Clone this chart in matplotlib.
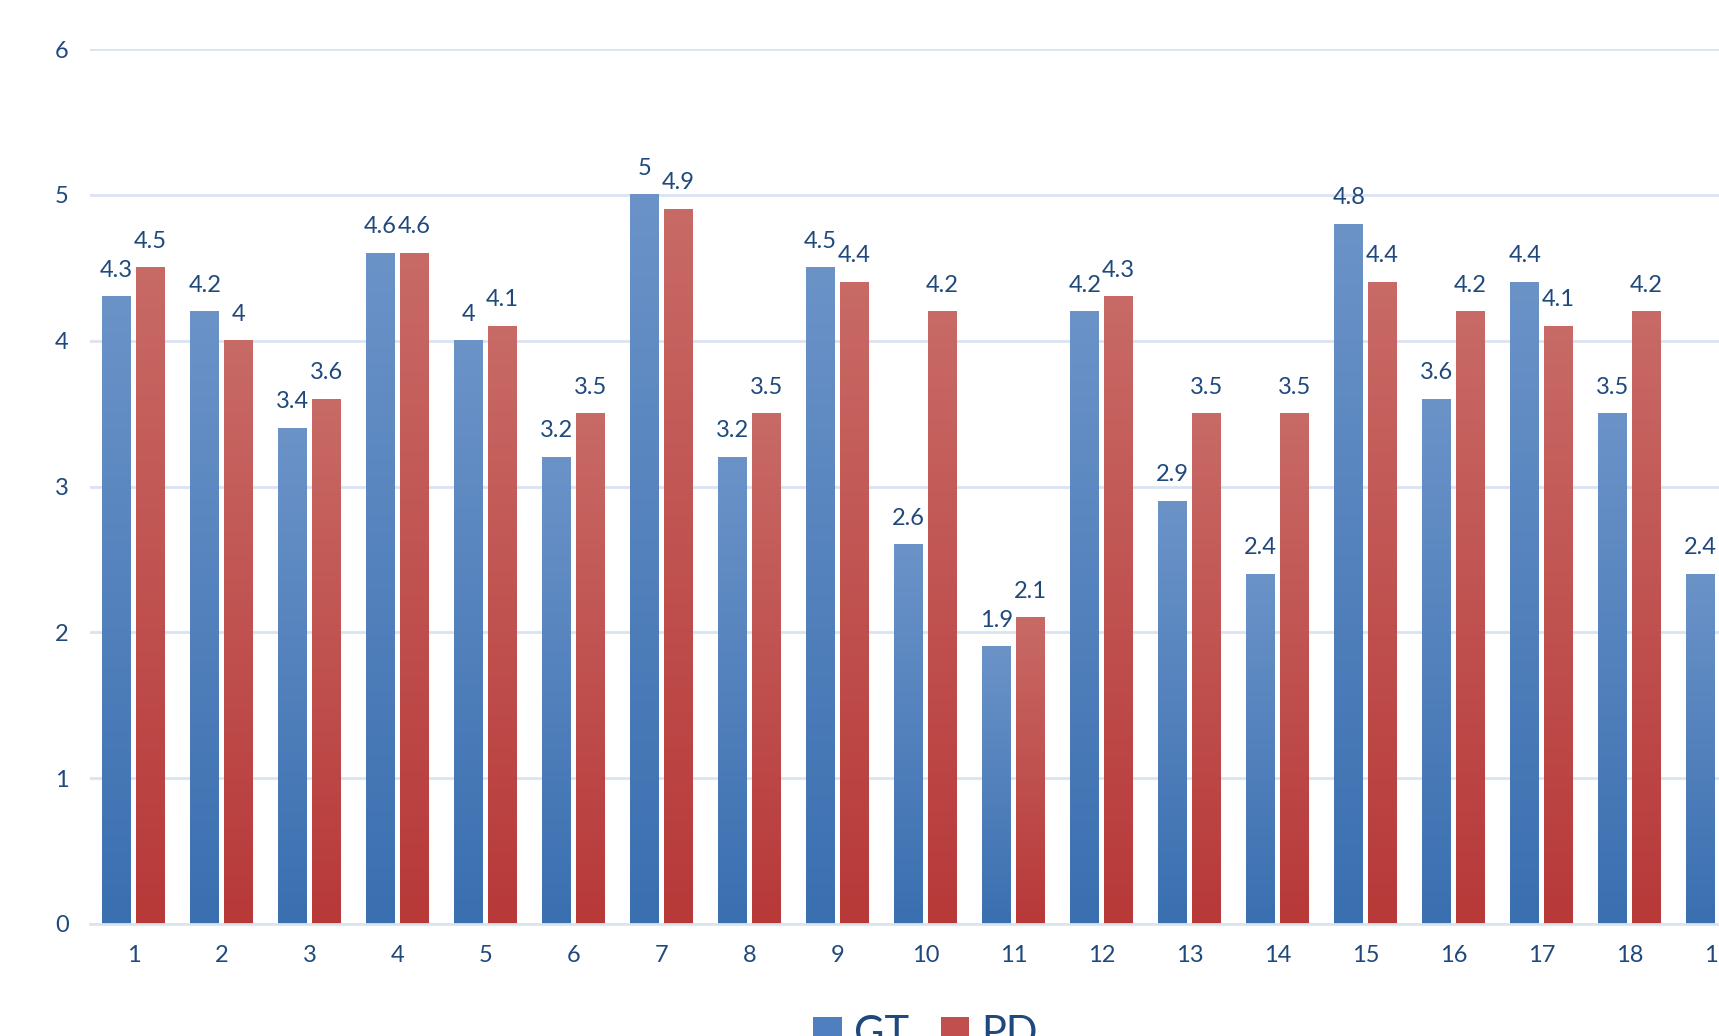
import numpy as np
import matplotlib
matplotlib.use('Agg')
import matplotlib.pyplot as plt
from matplotlib.colors import LinearSegmentedColormap
from matplotlib.patches import Patch

# data (the 19th PD bar is cut off in the original)
categories = [str(i) for i in range(1, 20)]
gt_values = [4.3, 4.2, 3.4, 4.6, 4.0, 3.2, 5.0, 3.2, 4.5, 2.6,
             1.9, 4.2, 2.9, 2.4, 4.8, 3.6, 4.4, 3.5, 2.4]
pd_values = [4.5, 4.0, 3.6, 4.6, 4.1, 3.5, 4.9, 3.5, 4.4, 4.2,
             2.1, 4.3, 3.5, 3.5, 4.4, 4.2, 4.1, 4.2]
series_names = ['GT', 'PD']

text_color = '#1f497d'
grid_color = '#d9e4f1'
blue_cmap = LinearSegmentedColormap.from_list('b', ['#3a6fb0', '#6b93c8'])
red_cmap = LinearSegmentedColormap.from_list('r', ['#b73938', '#c86a66'])

plt.rcParams['font.family'] = ['Lato', 'DejaVu Sans']

W, H = 1719, 1036
fig = plt.figure(figsize=(W / 100, H / 100), dpi=100)
# axes run past the right edge, as in the cropped original
ax = fig.add_axes([89.7 / W, 112 / H, 19 * 88 / W, 875 / H])

width = 0.324
offset = 0.193
x = np.arange(1, len(categories) + 1)

grad = np.linspace(0, 1, 256).reshape(-1, 1)


def draw_series(xs, vals, cmap):
    bars = ax.bar(xs, vals, width=width, color='none', edgecolor='none')
    for b, v in zip(bars, vals):
        x0 = b.get_x()
        ax.imshow(grad, extent=[x0, x0 + b.get_width(), 0, v], origin='lower',
                  aspect='auto', cmap=cmap, zorder=2)
        ax.annotate(f'{v:g}', (x0 + b.get_width() / 2, v), xytext=(0, 11.5),
                    textcoords='offset points', ha='center', va='bottom',
                    fontsize=17, color=text_color)


draw_series(x[:len(gt_values)] - offset, gt_values, blue_cmap)
draw_series(x[:len(pd_values)] + offset, pd_values, red_cmap)

ax.set_xlim(0.5, len(categories) + 0.5)
ax.set_ylim(0, 6)
ax.set_yticks(range(0, 7))
ax.set_xticks(x)
ax.set_xticklabels(categories)
ax.tick_params(axis='both', length=0, labelsize=17, labelcolor=text_color)
ax.tick_params(axis='x', pad=15)
ax.tick_params(axis='y', pad=15)
ax.grid(axis='y', color=grid_color, linewidth=2)
ax.set_axisbelow(True)
for s in ['top', 'right', 'left']:
    ax.spines[s].set_visible(False)
ax.spines['bottom'].set_color(grid_color)
ax.spines['bottom'].set_linewidth(2)

handles = [Patch(facecolor='#4f7fbe', label=series_names[0]),
           Patch(facecolor='#c04f4d', label=series_names[1])]
fig.legend(handles=handles, loc='upper center', bbox_to_anchor=(925.7 / W, 38 / H),
           ncol=2, frameon=False, fontsize=30, labelcolor=text_color,
           handlelength=0.68, handleheight=0.68, handletextpad=0.3,
           columnspacing=0.75, borderaxespad=0)

fig.savefig('out.png', dpi=100)
